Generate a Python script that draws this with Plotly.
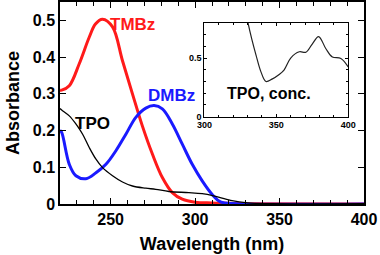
import plotly.graph_objects as go

# Main spectra (wavelength nm, absorbance)
tmbz_x = [220, 221, 225.5, 231.4, 237.3, 241, 245.2, 251.1, 257, 262.9, 268.8, 274.7, 280.6, 286.5, 292.4, 300, 310, 320, 330, 400]
tmbz_y = [0.31, 0.31, 0.322, 0.382, 0.454, 0.49, 0.503, 0.482, 0.39, 0.30, 0.212, 0.136, 0.072, 0.031, 0.013, 0.005, 0.003, 0.002, 0.001, 0.0]

dmbz_x = [220, 221, 225.5, 229.4, 235.3, 241.3, 247.2, 253.1, 259, 264.9, 270.8, 275.7, 280.6, 286.5, 292.4, 298.3, 304.2, 310.1, 315, 325, 400]
dmbz_y = [0.2, 0.195, 0.108, 0.077, 0.069, 0.085, 0.108, 0.145, 0.19, 0.236, 0.261, 0.268, 0.259, 0.218, 0.163, 0.108, 0.063, 0.026, 0.006, 0.001, 0.0]

tpo_x = [220, 221, 225.5, 229.4, 233.4, 237.3, 241.3, 245.2, 251.1, 257, 262.9, 270.8, 276.7, 284.5, 296.3, 304.2, 311, 321, 331, 345, 400]
tpo_y = [0.26, 0.256, 0.24, 0.218, 0.19, 0.154, 0.122, 0.099, 0.077, 0.06, 0.049, 0.043, 0.04, 0.034, 0.031, 0.028, 0.022, 0.010, 0.003, 0.001, 0.001]

# Inset: concentrated TPO
conc_x = [328, 330, 333, 335.9, 339.4, 342.8, 347, 352, 355.5, 360, 366, 370.6, 375, 379.4, 384.5, 389, 394.9, 400]
conc_y = [0.95, 0.82, 0.66, 0.526, 0.38, 0.30, 0.32, 0.36, 0.40, 0.50, 0.554, 0.55, 0.62, 0.684, 0.58, 0.51, 0.497, 0.425]

FONT = "Liberation Sans"

fig = go.Figure()
fig.add_trace(go.Scatter(x=tmbz_x, y=tmbz_y, mode="lines", line=dict(color="#ff1a1a", width=3, shape="spline"), showlegend=False))
fig.add_trace(go.Scatter(x=dmbz_x, y=dmbz_y, mode="lines", line=dict(color="#1a1aff", width=3, shape="spline"), showlegend=False))
fig.add_trace(go.Scatter(x=tpo_x, y=tpo_y, mode="lines", line=dict(color="black", width=1.3, shape="spline"), showlegend=False))
fig.add_trace(go.Scatter(x=conc_x, y=conc_y, mode="lines", line=dict(color="#222", width=1.2, shape="spline"),
                         xaxis="x2", yaxis="y2", showlegend=False))

axis_common = dict(showgrid=False, zeroline=False, showline=True, linecolor="black", mirror="ticks",
                   ticks="inside", tickcolor="black", automargin=False)

fig.update_layout(
    width=380, height=255,
    margin=dict(l=60, r=16, t=2, b=51),
    plot_bgcolor="white", paper_bgcolor="white",
    font=dict(family=FONT, color="black"),
    xaxis=dict(**axis_common, range=[220, 400], tickvals=[250, 300, 350, 400], ticklen=6, linewidth=1.5,
               tickfont=dict(size=16, weight="bold"),
               minor=dict(ticks="inside", dtick=10, ticklen=4, tickcolor="black", tick0=220),
               title=dict(text="Wavelength (nm)", font=dict(size=18, weight="bold"), standoff=10)),
    yaxis=dict(**axis_common, range=[0, 0.55], dtick=0.1, ticklen=6, linewidth=1.5,
               tickformat=".1~f",
               tickfont=dict(size=16, weight="bold"),
               title=dict(text="Absorbance", font=dict(size=18, weight="bold"), standoff=8)),
    xaxis2=dict(**axis_common, domain=[0.475, 0.948], anchor="y2", range=[300, 400], tickvals=[300, 350, 400],
                ticklen=3, linewidth=1, tickfont=dict(size=9, weight="bold"),
                minor=dict(ticks="inside", dtick=10, ticklen=2, tickcolor="black", tick0=300)),
    yaxis2=dict(**axis_common, domain=[0.433, 0.896], anchor="x2", range=[0, 0.8], tickvals=[0, 0.5],
                ticktext=["0", "0.5"], ticklen=3, linewidth=1, tickfont=dict(size=9, weight="bold"),
                minor=dict(ticks="inside", dtick=0.1, ticklen=2, tickcolor="black")),
)

fig.add_annotation(x=263, y=0.49, text="TMBz", showarrow=False, xref="x", yref="y",
                   font=dict(size=17, color="#ff1a1a", weight="bold"))
fig.add_annotation(x=286, y=0.295, text="DMBz", showarrow=False, xref="x", yref="y",
                   font=dict(size=17, color="#1a1aff", weight="bold"))
fig.add_annotation(x=239, y=0.22, text="TPO", showarrow=False, xref="x", yref="y",
                   font=dict(size=17, color="black", weight="bold"))
fig.add_annotation(x=345, y=0.2, text="TPO, conc.", showarrow=False, xref="x2", yref="y2",
                   font=dict(size=16, color="black", weight="bold"))

fig.write_html("out.html", config={"displayModeBar": False},
               post_script="document.body.style.margin='0';document.body.style.overflow='hidden';")
